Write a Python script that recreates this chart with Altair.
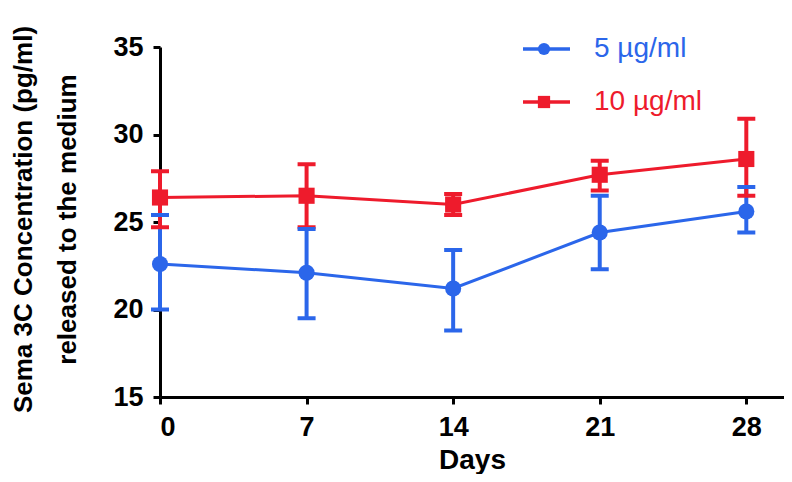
import altair as alt
import pandas as pd

days = [0, 7, 14, 21, 28]
series_names = ["5 µg/ml", "10 µg/ml"]
series_colors = ["#2b66ea", "#ee1b2c"]
series_shapes = ["circle", "square"]

mean_5 = [22.6, 22.1, 21.2, 24.4, 25.6]
low_5 = [20.0, 19.5, 18.8, 22.3, 24.4]
high_5 = [25.4, 24.6, 23.4, 26.5, 27.0]

mean_10 = [26.4, 26.5, 26.0, 27.7, 28.6]
low_10 = [24.7, 24.7, 25.4, 26.8, 26.5]
high_10 = [27.9, 28.3, 26.6, 28.5, 30.9]

x_ticks = [0, 7, 14, 21, 28]
y_ticks = [15, 20, 25, 30, 35]

rows = []
for name, m, lo, hi in [(series_names[0], mean_5, low_5, high_5),
                        (series_names[1], mean_10, low_10, high_10)]:
    for d, a, b, c in zip(days, m, lo, hi):
        rows.append({"day": d, "series": name, "mean": a, "low": b, "high": c})
df = pd.DataFrame(rows)

FONT = "Liberation Sans"

color = alt.Color("series:N", scale=alt.Scale(domain=series_names, range=series_colors), legend=None)
xenc = alt.X("day:Q", scale=alt.Scale(domain=[0, 29.8], nice=False, zero=False),
             axis=alt.Axis(values=x_ticks, title="Days", titleFontSize=28, titlePadding=6,
                           labelPadding=10))
yaxis = alt.Axis(values=y_ticks, title=["Sema 3C Concentration (pg/ml)", "released to the medium"],
                 titleFontSize=26, titleLineHeight=44, titleX=-137, titleY=172,
                 titleAlign="center", titleBaseline="middle", titleAngle=270,
                 labelPadding=10)
yscale = alt.Scale(domain=[15, 35], nice=False, zero=False)

base = alt.Chart(df).encode(x=xenc, color=color)

err = base.mark_rule(strokeWidth=4).encode(
    y=alt.Y("low:Q", scale=yscale, axis=yaxis), y2="high:Q")
cap_lo = base.mark_tick(orient="horizontal", size=18, thickness=4, opacity=1).encode(
    y=alt.Y("low:Q", scale=yscale))
cap_hi = base.mark_tick(orient="horizontal", size=18, thickness=4, opacity=1).encode(
    y=alt.Y("high:Q", scale=yscale))
line = base.mark_line(strokeWidth=3).encode(
    y=alt.Y("mean:Q", scale=yscale), detail="series:N")
pts = base.mark_point(filled=True, size=260, opacity=1).encode(
    y=alt.Y("mean:Q", scale=yscale),
    shape=alt.Shape("series:N", scale=alt.Scale(domain=series_names, range=series_shapes), legend=None))

layers = [err, cap_lo, cap_hi, line, pts]

# manual legend
leg_y = [2, 55]
for name, col, shp, yy in zip(series_names, series_colors, series_shapes, leg_y):
    ldf = pd.DataFrame({"series": [name]})
    layers.append(alt.Chart(ldf).mark_rule(strokeWidth=3.5, color=col).encode(
        x=alt.value(363), x2=alt.value(410), y=alt.value(yy)))
    layers.append(alt.Chart(ldf).mark_point(filled=True, shape=shp, size=150, color=col, opacity=1).encode(
        x=alt.value(384), y=alt.value(yy)))
    layers.append(alt.Chart(ldf).mark_text(align="left", baseline="middle", fontSize=28, font=FONT,
                                           color=col).encode(
        x=alt.value(434), y=alt.value(yy), text="series:N"))

chart = alt.layer(*layers).properties(
    width=624, height=350,
    autosize=alt.AutoSizeParams(type="none"),
    padding={"left": 152, "top": 39, "right": 0, "bottom": 77},
).configure_view(stroke=None).configure_axis(
    grid=False,
    domainColor="black", domainWidth=3,
    tickColor="black", tickWidth=3, tickSize=7,
    labelFont=FONT, labelFontSize=27, labelFontWeight="bold", labelColor="black",
    titleFont=FONT, titleFontWeight="bold", titleColor="black",
)

chart.save("out.html", embed_options={"renderer": "svg", "actions": False})
